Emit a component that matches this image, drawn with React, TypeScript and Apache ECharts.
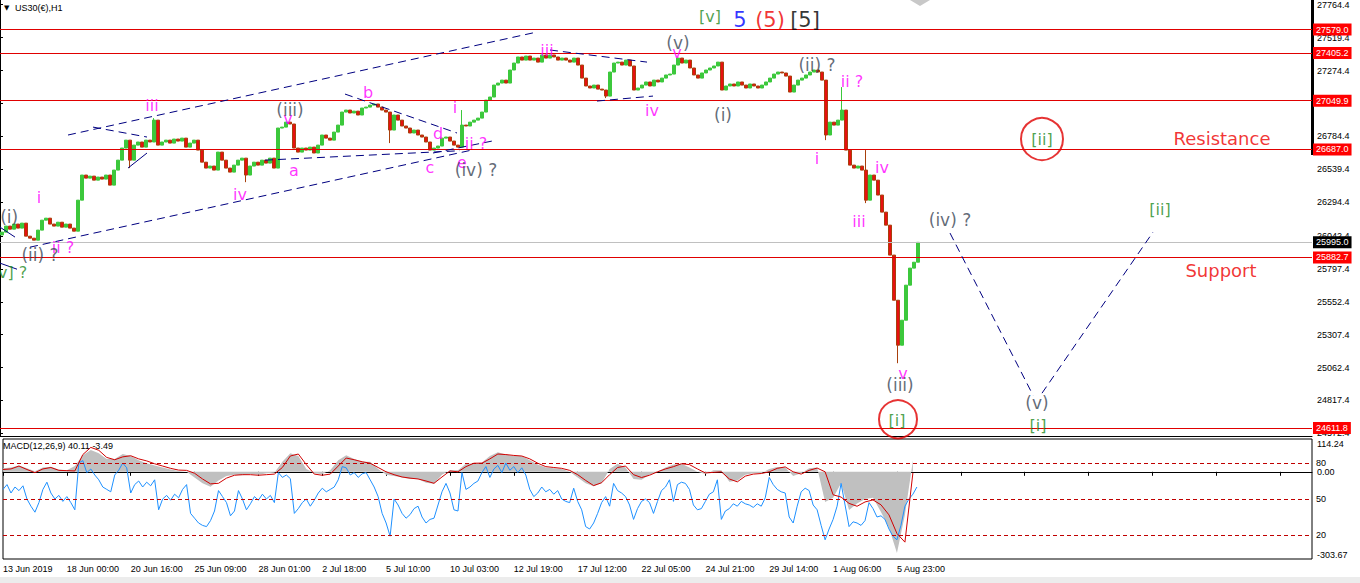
import React, { useEffect, useRef } from 'react';
import * as echarts from 'echarts';

// ---------- data ----------
const dateLabels = ['13 Jun 2019', '18 Jun 00:00', '20 Jun 16:00', '25 Jun 09:00', '28 Jun 01:00', '2 Jul 18:00', '5 Jul 10:00', '10 Jul 03:00', '12 Jul 19:00', '17 Jul 12:00', '22 Jul 05:00', '24 Jul 21:00', '29 Jul 14:00', '1 Aug 06:00', '5 Aug 23:00'];

const priceTicks = [27764.4, 27519.4, 27274.4, 27029.4, 26784.4, 26539.4, 26294.4, 26042.4, 25797.4, 25552.4, 25307.4, 25062.4, 24817.4, 24572.4];
const levelLines = [27579.0, 27405.2, 27049.9, 26687.0, 25882.7, 24611.8];
const lastPrice = 25995.0;

const firstOpen = 26050;
const closes = [
  26071, 26116, 26093, 26131, 26101, 26138, 26041, 26026, 26011, 26086,
  26160, 26175, 26131, 26116, 26145, 26108, 26131, 26101, 26078, 26309,
  26496, 26473, 26488, 26458, 26481, 26466, 26496, 26421, 26533, 26607,
  26697, 26756, 26607, 26719, 26742, 26704, 26756, 26742, 26905, 26719,
  26742, 26756, 26734, 26764, 26749, 26771, 26704, 26734, 26756, 26682,
  26592, 26548, 26563, 26533, 26667, 26607, 26548, 26518, 26570, 26607,
  26622, 26496, 26563, 26592, 26570, 26607, 26585, 26622, 26548, 26846,
  26853, 26890, 26876, 26697, 26667, 26697, 26682, 26704, 26660, 26719,
  26794, 26771, 26756, 26816, 26868, 26965, 26980, 26958, 26972, 26943,
  26995, 27002, 27017, 27025, 27002, 26980, 26965, 26831, 26943, 26905,
  26861, 26846, 26809, 26831, 26794, 26779, 26742, 26682, 26697, 26712,
  26771, 26779, 26749, 26719, 26704, 26868, 26861, 26890, 26905, 26920,
  26965, 27054, 27077, 27166, 27181, 27203, 27181, 27278, 27330, 27375,
  27352, 27382, 27352, 27367, 27337, 27390, 27367, 27390, 27375, 27352,
  27367, 27352, 27337, 27367, 27315, 27218, 27159, 27144, 27166, 27136,
  27129, 27084, 27263, 27330, 27337, 27315, 27352, 27308, 27129, 27144,
  27166, 27189, 27159, 27203, 27189, 27218, 27241, 27248, 27315, 27367,
  27330, 27352, 27293, 27241, 27218, 27256, 27278, 27293, 27308, 27337,
  27129, 27159, 27174, 27159, 27189, 27166, 27144, 27174, 27159, 27144,
  27166, 27189, 27218, 27248, 27263, 27256, 27233, 27114, 27166, 27203,
  27218, 27241, 27263, 27278, 27263, 27203, 26794, 26890, 26868, 26905,
  26980, 26682, 26570, 26548, 26563, 26533, 26309, 26496, 26458, 26347,
  26220, 26123, 25900, 25564, 25229, 25415, 25676, 25803, 25847, 25995,
];
const wickLow: Record<number, number> = { 32: 26548, 61: 26443, 97: 26734, 151: 27069, 206: 26756, 216: 26287, 224: 25095 };
const wickHigh: Record<number, number> = { 38: 26920, 115: 26980, 210: 27151, 216: 26682 };

const oscillator = [
  58, 62, 55, 60, 57, 61, 50, 44, 39, 47,
  58, 64, 55, 50, 53, 48, 52, 47, 41, 80,
  82, 72, 75, 70, 66, 60, 58, 56, 70, 74,
  80, 76, 55, 62, 65, 60, 64, 61, 66, 41,
  50, 53, 49, 54, 51, 58, 62, 38, 34, 30,
  28, 27, 32, 40, 57, 52, 47, 36, 40, 57,
  50, 41, 46, 52, 49, 54, 50, 53, 47, 72,
  68, 70, 67, 38, 42, 47, 50, 44, 49, 55,
  59, 56, 58, 60, 66, 77, 76, 70, 72, 68,
  71, 72, 66, 60, 52, 38, 30, 19, 50, 45,
  38, 34, 37, 42, 44, 35, 30, 33, 34, 45,
  56, 63, 55, 41, 40, 72, 58, 60, 63, 65,
  72, 77, 68, 75, 78, 72, 80, 74, 77, 72,
  76, 70, 58, 52, 55, 60, 56, 58, 54, 57,
  50, 48, 47, 59, 48, 41, 27, 25, 30, 38,
  47, 52, 44, 63, 57, 55, 52, 45, 33, 42,
  48, 50, 47, 38, 48, 57, 60, 66, 48, 62,
  64, 63, 58, 45, 41, 42, 48, 54, 56, 66,
  33, 40, 42, 46, 44, 48, 46, 45, 43, 46,
  44, 51, 68, 62, 58, 56, 55, 35, 30, 44,
  56, 59, 57, 45, 41, 28, 16, 25, 33, 44,
  63, 45, 27, 31, 30, 28, 32, 47, 42, 35,
  36, 33, 25, 19, 16, 28, 44, 50, 54, 60,
];
const oscLevels = [80, 50, 20];

const macdHist = [
  12, 15, 22, 12, 2, 15, 18, 8, 5, 20,
  58, 76, 65, 45, 45, 62, 55, 40, 30, 22,
  15, 8, 3, 0, -20, -40, -52, -30, -15, -10,
  -12, -8, -10, -5, -3, 35, 65, 55, 10, -5,
  -8, 5, 40, 58, 45, 35, 35, 10, -10, -15,
  -20, -25, -25, -38, -42, -10, 5, 5, 28, 30,
  32, 55, 68, 60, 55, 55, 40, 25, 15, 12,
  10, 0, -20, -40, -50, -40, 10, 28, 15, -25,
  -28, -10, 0, 15, 25, 28, 15, 0, -8, 5,
  5, -35, -30, -10, -5, -5, 10, 17, 15, -15,
  -5, 12, 15, -105, -90, -40, -133, -110, -95, -90,
  -140, -195, -283, -150, 40.11,
];
const macdSignal = [
  8, 10, 20, 8, -3, 10, 15, 5, 4, 3,
  60, 85, 75, 50, 42, 52, 56, 45, 38, 28,
  20, 12, 6, 5, -5, -25, -42, -40, -22, -12,
  -10, -10, -12, -10, -8, 15, 55, 62, 25, -8,
  -12, -8, 20, 48, 42, 35, 30, 15, 0, -10,
  -18, -22, -25, -32, -40, -18, 3, 0, 18, 30,
  30, 45, 62, 60, 57, 55, 45, 30, 18, 15,
  12, 5, -10, -30, -48, -38, -10, 15, 20, -10,
  -20, -12, 0, 10, 18, 28, 25, 10, -4, -2,
  0, -25, -35, -15, -8, -6, 0, 12, 17, 0,
  -8, 5, 13, 0, -80, -88, -110, -120, -105, -98,
  -115, -150, -215, -245, -3.49,
];
const macdTicks = [114.24, 0, -303.67];

const MAG = '#ff00ff';
const DARK = '#3a4655';
const GRN = '#1f8a1f';
// [text, bar position, price, colour, font size]
const waveLabels: [string, number, number, string, number][] = [
  ['i', 9.75, 26332, MAG, 16], ['iii', 38, 27017, MAG, 16], ['iv', 60, 26354, MAG, 16],
  ['v', 72, 26920, MAG, 16], ['a', 73.5, 26533, MAG, 16], ['b', 92, 27107, MAG, 16],
  ['c', 107.5, 26555, MAG, 16], ['d', 109.5, 26809, MAG, 16], ['e', 115.5, 26593, MAG, 16],
  ['i', 113.75, 27002, MAG, 16], ['ii ?', 119, 26734, MAG, 16], ['iii', 136.75, 27427, MAG, 16],
  ['iv', 163, 26980, MAG, 16], ['v', 169.25, 27405, MAG, 16], ['i', 204.25, 26622, MAG, 16],
  ['ii ?', 213, 27189, MAG, 16], ['iii', 214.75, 26153, MAG, 16], ['iv', 220.5, 26555, MAG, 16],
  ['v', 225.75, 25020, MAG, 16], ['ii ?', 15.75, 25959, MAG, 16],
  ['(i)', 2.3, 26183, DARK, 17], ['(ii) ?', 10, 25900, DARK, 17], ['(iii)', 72.5, 26980, DARK, 17],
  ['(iv) ?', 119, 26533, DARK, 17], ['(v)', 169.5, 27479, DARK, 17], ['(i)', 180.75, 26943, DARK, 17],
  ['(ii) ?', 204.25, 27315, DARK, 17], ['(iii)', 225, 24931, DARK, 17], ['(iv) ?', 237.5, 26160, DARK, 17],
  ['(v)', 259.25, 24797, DARK, 17],
  ['[v]', 177.5, 27673, GRN, 16], ['[ii]', 260.5, 26764, GRN, 16], ['[ii]', 290, 26242, GRN, 16],
  ['[i]', 224.25, 24670, GRN, 16], ['[i]', 259.5, 24633, GRN, 16], ['[v] ?', 2.4, 25773, GRN, 16],
  ['5', 185, 27650, '#0000ff', 21], ['(5)', 192.5, 27650, '#ee0000', 21], ['[5]', 201.25, 27650, '#000000', 21],
  ['Resistance', 305.5, 26771, '#ee0000', 18], ['Support', 305.25, 25783, '#ee0000', 18],
];
// [bar position, price, diameter]
const circles: [number, number, number][] = [[260.5, 26764, 42], [224.5, 24678, 38]];
// [[bar, price], [bar, price], style]
const trendLines: [[number, number], [number, number], string][] = [
  [[17, 26794], [134.25, 27561], 'dash'],
  [[7.5, 25959], [117.5, 26679], 'dash'],
  [[66.25, 26607], [115, 26677], 'dash'],
  [[86.25, 27099], [114.25, 26809], 'dash'],
  [[108.25, 26660], [123, 26749], 'dash'],
  [[23.25, 26853], [36.75, 26779], 'dash'],
  [[32, 26548], [36.75, 26660], 'solid'],
  [[137.5, 27427], [161.75, 27337], 'dash'],
  [[149.25, 27047], [163.25, 27084], 'dash'],
  [[0, 26108], [3.75, 26034], 'solid'],
  [[0, 25840], [4.25, 25795], 'solid'],
  [[237.5, 26064], [258.25, 24857], 'dash'],
  [[260.5, 24872], [288.25, 26071], 'dash'],
];

const SLOTS = 328;
const AXF = 'Liberation Sans, Arial, sans-serif';
const TXF = 'DejaVu Sans, Verdana, sans-serif';

export default function App() {
  const ref = useRef<HTMLDivElement>(null);
  useEffect(() => {
    if (!ref.current) return;
    const chart = echarts.init(ref.current, undefined, { renderer: 'svg' });

    const slotCats = Array.from({ length: SLOTS }, (_, i) => String(i));
    const labelCats = Array.from({ length: SLOTS + 1 }, (_, i) => (i % 16 === 0 ? dateLabels[i / 16] ?? '' : ''));
    const macdCats = Array.from({ length: 165 }, (_, i) => String(i));

    const candles = closes.map((c, i) => {
      const o = i === 0 ? firstOpen : closes[i - 1];
      const lo = Math.min(o, c, wickLow[i] ?? Infinity);
      const hi = Math.max(o, c, wickHigh[i] ?? -Infinity);
      return [o, c, lo, hi];
    });

    const tagLabel = (bg: string) => ({
      show: true, position: 'end', distance: 1,
      formatter: (p: any) => Number(p.value).toFixed(1),
      backgroundColor: bg, color: '#fff', fontSize: 9, fontFamily: AXF,
      padding: [1, 3, 1, 3], lineHeight: 10,
    });

    const option: any = {
      animation: false,
      backgroundColor: '#ffffff',
      grid: [
        { left: 0, right: 48, top: 0, height: 436 },
        { left: 0, right: 48, top: 439, height: 120, show: true, borderColor: '#000', borderWidth: 1 },
      ],
      xAxis: [
        { gridIndex: 0, type: 'category', data: slotCats, boundaryGap: true, axisLine: { show: true, lineStyle: { color: '#000' } }, axisTick: { show: false }, axisLabel: { show: false }, splitLine: { show: false } },
        {
          gridIndex: 1, type: 'category', data: labelCats, boundaryGap: false,
          axisLine: { show: true, lineStyle: { color: '#000' } },
          axisTick: { show: true, length: 4, interval: (i: number) => i % 16 === 0, lineStyle: { color: '#000' } },
          axisLabel: { interval: (i: number) => i % 16 === 0, align: 'left', fontSize: 9, fontFamily: AXF, color: '#000', margin: 5 },
          splitLine: { show: false },
        },
        { gridIndex: 1, type: 'category', data: macdCats, boundaryGap: false, show: false },
        { gridIndex: 0, type: 'value', min: 0, max: SLOTS, show: false },
      ],
      yAxis: [
        {
          gridIndex: 0, type: 'value', position: 'right', min: 24553, max: 27799.4,
          splitLine: { show: false },
          axisLine: { show: true, lineStyle: { color: '#000' } },
          axisTick: { show: true, length: 3, customValues: priceTicks, lineStyle: { color: '#000' } },
          axisLabel: { customValues: priceTicks, formatter: (v: number) => v.toFixed(1), color: '#000', fontSize: 9, fontFamily: AXF, margin: 5 },
        },
        {
          gridIndex: 1, type: 'value', position: 'right', min: -303.67, max: 114.24,
          splitLine: { show: false }, axisLine: { show: false },
          axisTick: { show: false },
          axisLabel: {
            customValues: macdTicks, formatter: (v: number) => v.toFixed(2), color: '#000', fontSize: 9, fontFamily: AXF, margin: 5,
            verticalAlignMaxLabel: 'bottom', verticalAlignMinLabel: 'top',
          },
        },
        {
          gridIndex: 1, type: 'value', position: 'right', min: 0, max: 100,
          splitLine: { show: false }, axisLine: { show: false }, axisTick: { show: false },
          axisLabel: { customValues: oscLevels, formatter: (v: number) => String(v), color: '#000', fontSize: 9, fontFamily: AXF, margin: 4 },
        },
      ],
      series: [
        {
          type: 'line', xAxisIndex: 2, yAxisIndex: 1, data: macdHist, showSymbol: false, silent: true,
          lineStyle: { width: 0, color: '#c0c0c0' }, areaStyle: { color: '#c0c0c0', opacity: 1 }, z: 1,
        },
        {
          type: 'line', xAxisIndex: 1, yAxisIndex: 2, data: oscillator, showSymbol: false, silent: true,
          lineStyle: { width: 1, color: '#1e90ff' }, z: 3,
          markLine: {
            silent: true, symbol: ['none', 'none'], label: { show: false },
            lineStyle: { color: '#c00000', type: [4, 3], width: 1 },
            data: oscLevels.map((v) => ({ yAxis: v })),
          },
        },
        {
          type: 'line', xAxisIndex: 2, yAxisIndex: 1, data: macdSignal, showSymbol: false, silent: true,
          lineStyle: { width: 1, color: '#d00000' }, z: 4,
        },
        {
          type: 'candlestick', xAxisIndex: 0, yAxisIndex: 0, data: candles, barWidth: 3, silent: true,
          itemStyle: { color: '#3cc83c', color0: '#e81010', borderColor: '#3cc83c', borderColor0: '#a8400c', borderWidth: 1 },
          markLine: {
            silent: true, symbol: ['none', 'none'], precision: 1,
            data: [
              ...levelLines.map((v) => ({ yAxis: v, lineStyle: { color: '#e00000', width: 1, type: 'solid' }, label: tagLabel('#ff0000') })),
              { yAxis: lastPrice, lineStyle: { color: '#c0c0c0', width: 1, type: 'solid' }, label: tagLabel('#000000') },
            ],
          },
          z: 2,
        },
        {
          type: 'scatter', xAxisIndex: 3, yAxisIndex: 0, silent: true, symbolSize: 1,
          itemStyle: { color: 'rgba(0,0,0,0)' },
          label: { show: true, position: 'inside', formatter: '{b}', fontFamily: TXF },
          data: waveLabels.map(([t, x, p, c, s]) => ({ name: t, value: [x, p], label: { color: c, fontSize: s } })),
          markLine: {
            silent: true, symbol: ['none', 'none'], label: { show: false },
            data: trendLines.map(([a, b, st]) => [
              { coord: a, lineStyle: { color: '#000080', width: 1, type: st === 'dash' ? [8, 5] : 'solid' } },
              { coord: b },
            ]),
          },
          z: 6,
        },
        {
          type: 'scatter', xAxisIndex: 3, yAxisIndex: 0, silent: true, symbol: 'circle',
          data: circles.map(([x, p, d]) => ({ value: [x, p], symbolSize: d })),
          itemStyle: { color: 'rgba(0,0,0,0)', borderColor: '#e00000', borderWidth: 2 },
          z: 5,
        },
      ],
      graphic: [
        { type: 'rect', left: 1311, top: 0, shape: { width: 3, height: 155 }, style: { fill: '#000' }, silent: true },
        { type: 'polygon', shape: { points: [[910, 0], [930, 0], [920, 6]] }, style: { fill: '#c8c8c8' }, silent: true },
        { type: 'rect', left: 0, top: 577, shape: { width: 1360, height: 6 }, style: { fill: '#ececec' }, silent: true },
        { type: 'text', left: 4, top: 4, style: { text: '▼', fontSize: 7, fill: '#000', fontFamily: TXF }, silent: true },
        { type: 'text', left: 15, top: 3, style: { text: 'US30(€),H1', fontSize: 9, fill: '#000', fontFamily: AXF }, silent: true },
        { type: 'text', left: 3, top: 441, style: { text: 'MACD(12,26,9) 40.11 -3.49', fontSize: 9, fill: '#000', fontFamily: AXF }, silent: true },
      ],
    };
    chart.setOption(option);
    return () => chart.dispose();
  }, []);
  return <div ref={ref} style={{ position: 'fixed', left: 0, top: 0, width: 1360, height: 583, background: '#fff' }} />;
}
